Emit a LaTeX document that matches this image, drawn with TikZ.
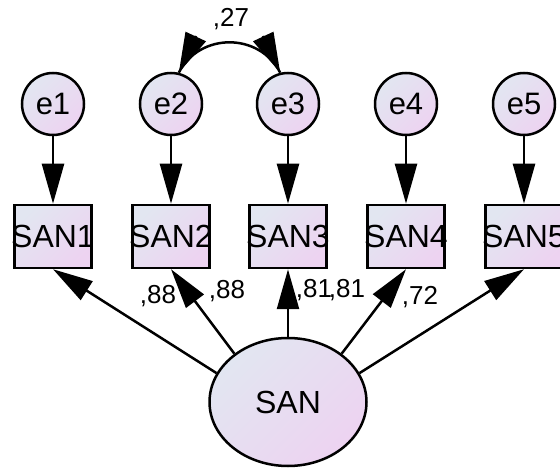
\documentclass[tikz,border=0pt]{standalone}
\usepackage{fontspec}
\setmainfont{Liberation Sans}
\usetikzlibrary{arrows.meta,shapes.geometric}
\definecolor{fillA}{RGB}{226,230,241}
\definecolor{fillB}{RGB}{237,211,241}

\begin{document}
\begin{tikzpicture}[x=1pt,y=-1pt,
  shadefill/.style={top color=fillA, bottom color=fillB, shading angle=45},
  errvar/.style={circle, draw, line width=2.5pt, shadefill, minimum size=62pt,
    inner sep=0pt, font=\fontsize{31}{31}\selectfont},
  obsvar/.style={rectangle, draw, line width=2.5pt, shadefill, minimum width=77pt,
    minimum height=63pt, inner sep=0pt, font=\fontsize{32}{32}\selectfont},
  latvar/.style={ellipse, draw, line width=2.5pt, shadefill, minimum width=157pt,
    minimum height=128pt, inner sep=0pt, font=\fontsize{32}{32}\selectfont},
  regpath/.style={line width=2.5pt, -{Triangle[length=40pt,width=22pt]}},
  covline/.style={line width=2.5pt},
  covtip/.style={line width=2.5pt, -{Triangle[length=40pt,width=22pt]}},
  coef/.style={font=\fontsize{26}{26}\selectfont, inner sep=0pt}
]
\useasboundingbox (0,0) rectangle (560,470);

% error terms
\node[errvar] (e1) at (53,104)  {e1};
\node[errvar] (e2) at (171,104) {e2};
\node[errvar] (e3) at (288,104) {e3};
\node[errvar] (e4) at (406,104) {e4};
\node[errvar] (e5) at (524,104) {e5};

% observed indicators
\node[obsvar] (SAN1) at (53,236.5)  {\makebox[0pt]{SAN1}};
\node[obsvar] (SAN2) at (171,236.5) {\makebox[0pt]{SAN2}};
\node[obsvar] (SAN3) at (288,236.5) {\makebox[0pt]{SAN3}};
\node[obsvar] (SAN4) at (406,236.5) {\makebox[0pt]{SAN4}};
\node[obsvar] (SAN5) at (524,236.5) {\makebox[0pt]{SAN5}};

% latent factor
\node[latvar] (SAN) at (288,402) {SAN};

% error paths
\foreach \i in {1,...,5}
  \draw[regpath] (e\i) -- (SAN\i);

% covariance between e2 and e3: full arc, heads laid along the end tangents
\draw[covline] (e2.76) to[out=63,in=117,looseness=1.15] (e3.104);
\coordinate (h2) at (196,36);
\coordinate (h3) at (263,36);
\draw[covtip] (h2) -- (e2.76);
\draw[covtip] (h3) -- (e3.104);
\node[coef] (r23) at (231,19) {,27};

% factor loadings
\draw[regpath] (SAN.158) -- (SAN1.south);
\draw[regpath] (SAN.138) -- (SAN2.south);
\draw[regpath] (SAN.90)  -- (SAN3.south);
\draw[regpath] (SAN.42)  -- (SAN4.south);
\draw[regpath] (SAN.22)  -- (SAN5.south);

\node[coef] (l1) at (158,296) {,88};
\node[coef] (l2) at (227,291) {,88};
\node[coef] (l3) at (314,290) {,81};
\node[coef] (l4) at (347,290) {,81};
\node[coef] (l5) at (420,297) {,72};
\end{tikzpicture}
\end{document}
